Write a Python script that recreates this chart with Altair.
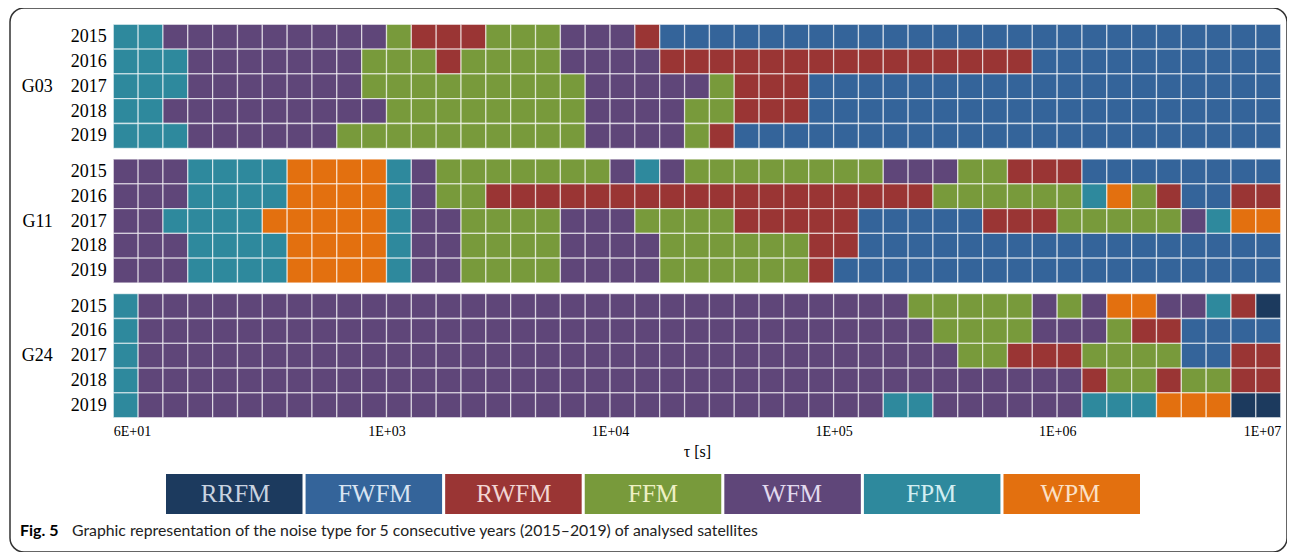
import json
import altair as alt
import pandas as pd

# ---------------- data ----------------
NOISE_TYPES = ["RRFM", "FWFM", "RWFM", "FFM", "WFM", "FPM", "WPM"]
SATELLITES = ["G03", "G11", "G24"]
YEARS = ["2015", "2016", "2017", "2018", "2019"]
N_COLS = 47
TICK_INDEX = [0, 11, 20, 29, 38, 47]
TICK_LABELS = ["6E+01", "1E+03", "1E+04", "1E+05", "1E+06", "1E+07"]
AXIS_TITLE = "τ [s]"
CAPTION_LABEL = "Fig. 5"
CAPTION_TEXT = "Graphic representation of the noise type for 5 consecutive years (2015–2019) of analysed satellites"

# run-length rows: (noise type, number of consecutive tau cells)
G03_RUNS = {
    "2015": [("FPM", 2), ("WFM", 9), ("FFM", 1), ("RWFM", 3), ("FFM", 3), ("WFM", 3), ("RWFM", 1), ("FWFM", 25)],
    "2016": [("FPM", 3), ("WFM", 7), ("FFM", 3), ("RWFM", 1), ("FFM", 4), ("WFM", 4), ("RWFM", 15), ("FWFM", 10)],
    "2017": [("FPM", 3), ("WFM", 7), ("FFM", 9), ("WFM", 5), ("FFM", 1), ("RWFM", 3), ("FWFM", 19)],
    "2018": [("FPM", 2), ("WFM", 9), ("FFM", 8), ("WFM", 4), ("FFM", 2), ("RWFM", 3), ("FWFM", 19)],
    "2019": [("FPM", 3), ("WFM", 6), ("FFM", 10), ("WFM", 4), ("FFM", 1), ("RWFM", 1), ("FWFM", 22)],
}
G11_RUNS = {
    "2015": [("WFM", 3), ("FPM", 4), ("WPM", 4), ("FPM", 1), ("WFM", 1), ("FFM", 7), ("WFM", 1), ("FPM", 1),
             ("WFM", 1), ("FFM", 8), ("WFM", 3), ("FFM", 2), ("RWFM", 3), ("FWFM", 8)],
    "2016": [("WFM", 3), ("FPM", 4), ("WPM", 4), ("FPM", 1), ("WFM", 1), ("FFM", 2), ("RWFM", 18), ("FFM", 6),
             ("FPM", 1), ("WPM", 1), ("FFM", 1), ("RWFM", 1), ("FWFM", 2), ("RWFM", 2)],
    "2017": [("WFM", 2), ("FPM", 4), ("WPM", 5), ("FPM", 1), ("WFM", 2), ("FFM", 4), ("WFM", 3), ("FFM", 4),
             ("RWFM", 5), ("FWFM", 5), ("RWFM", 3), ("FFM", 5), ("WFM", 1), ("FPM", 1), ("WPM", 2)],
    "2018": [("WFM", 3), ("FPM", 4), ("WPM", 4), ("FPM", 1), ("WFM", 2), ("FFM", 4), ("WFM", 4), ("FFM", 6),
             ("RWFM", 2), ("FWFM", 17)],
    "2019": [("WFM", 3), ("FPM", 4), ("WPM", 4), ("FPM", 1), ("WFM", 2), ("FFM", 4), ("WFM", 4), ("FFM", 6),
             ("RWFM", 1), ("FWFM", 18)],
}
G24_RUNS = {
    "2015": [("FPM", 1), ("WFM", 31), ("FFM", 5), ("WFM", 1), ("FFM", 1), ("WFM", 1), ("WPM", 2), ("WFM", 2),
             ("FPM", 1), ("RWFM", 1), ("RRFM", 1)],
    "2016": [("FPM", 1), ("WFM", 32), ("FFM", 4), ("WFM", 3), ("FFM", 1), ("RWFM", 2), ("FWFM", 4)],
    "2017": [("FPM", 1), ("WFM", 33), ("FFM", 2), ("RWFM", 3), ("FFM", 4), ("FWFM", 2), ("RWFM", 2)],
    "2018": [("FPM", 1), ("WFM", 38), ("RWFM", 1), ("FFM", 2), ("RWFM", 1), ("FFM", 2), ("RWFM", 2)],
    "2019": [("FPM", 1), ("WFM", 30), ("FPM", 2), ("WFM", 6), ("FPM", 3), ("WPM", 3), ("RRFM", 2)],
}
RUNS = {"G03": G03_RUNS, "G11": G11_RUNS, "G24": G24_RUNS}

# ---------------- styles ----------------
NOISE_COLORS = ["#1c3a5e", "#34649a", "#9a3534", "#789a3b", "#5f4679", "#2e899d", "#e3700f"]
LABEL_COLORS = ["#c9d3e0", "#d9e4f2", "#f2d6d3", "#eef0c4", "#e2d9ee", "#d3eef2", "#fbe0c6"]
SERIF = "Liberation Serif"
SANS = "Lato"

GAP = 0.43                      # vertical gap between satellite blocks (row units)
BLOCK = len(YEARS) + GAP

W, H = 1277, 544

# ---------------- build table ----------------
records = []
for p, sat in enumerate(SATELLITES):
    for i, year in enumerate(YEARS):
        col = 0
        for noise, n in RUNS[sat][year]:
            for _ in range(n):
                r0 = p * BLOCK + i
                records.append(dict(sat=sat, year=year, noise=noise,
                                    c0=col, c1=col + 1, r0=r0, r1=r0 + 1))
                col += 1
        assert col == N_COLS, (sat, year, col)
cells = pd.DataFrame(records)

y_ticks = [p * BLOCK + i + 0.5 for p in range(len(SATELLITES)) for i in range(len(YEARS))]
row_idx = f"floor(datum.value - floor(datum.value/{BLOCK})*{BLOCK})"
y_label_expr = (
    f"({row_idx} == 2 ? {json.dumps(SATELLITES)}[floor(datum.value/{BLOCK})] + '\u2003' : '') + "
    f"{json.dumps(YEARS)}[{row_idx}]"
)
x_label_expr = f"{json.dumps(TICK_LABELS)}[indexof({json.dumps(TICK_INDEX)}, datum.value)]"

x_scale = alt.Scale(domain=[0, N_COLS], range=[103.3, 1270.7], nice=False, zero=False)
y_scale = alt.Scale(domain=[0, len(SATELLITES) * BLOCK - GAP], range=[16.3, 409.7], nice=False, zero=False)
color_scale = alt.Scale(domain=NOISE_TYPES, range=NOISE_COLORS)

grid = alt.Chart(cells).mark_rect(stroke="white", strokeWidth=1.3, strokeOpacity=0.6).encode(
    x=alt.X("c0:Q", scale=x_scale,
            axis=alt.Axis(values=TICK_INDEX, labelExpr=x_label_expr, orient="bottom",
                          offset=-(H - 409.7), ticks=False, domain=False, grid=False,
                          labelPadding=7, labelFont=SERIF, labelFontSize=14, labelColor="black",
                          labelFlush=True, title=AXIS_TITLE, titleFont=SERIF, titleFontSize=16,
                          titleFontWeight="normal", titleColor="black", titlePadding=5)),
    x2="c1:Q",
    y=alt.Y("r0:Q", scale=y_scale,
            axis=alt.Axis(values=y_ticks, labelExpr=y_label_expr, orient="left",
                          offset=-103.3, ticks=False, domain=False, grid=False,
                          labelPadding=7, labelFont=SERIF, labelFontSize=18, labelColor="black",
                          labelBaseline="middle", title=None)),
    y2="r1:Q",
    color=alt.Color("noise:N", scale=color_scale, legend=None),
    tooltip=["sat", "year", "noise"],
)

leg = pd.DataFrame({"noise": NOISE_TYPES, "row": ["legend"] * len(NOISE_TYPES)})
leg_x = alt.X("noise:N", sort=NOISE_TYPES,
              scale=alt.Scale(domain=NOISE_TYPES, range=[156, 1130], paddingInner=0.022, paddingOuter=0),
              axis=None)
leg_y = alt.Y("row:N", scale=alt.Scale(domain=["legend"], range=[466, 506], paddingInner=0, paddingOuter=0),
              axis=None)
legend_rect = alt.Chart(leg).mark_rect().encode(
    x=leg_x, y=leg_y,
    color=alt.Color("noise:N", scale=color_scale, legend=None),
)
legend_text = alt.Chart(leg).mark_text(font=SERIF, fontSize=25, baseline="middle").encode(
    x=leg_x, y=leg_y, text="noise:N",
    color=alt.Color("noise:N", scale=alt.Scale(domain=NOISE_TYPES, range=LABEL_COLORS), legend=None),
)

cap_df = pd.DataFrame({"label": [CAPTION_LABEL], "text": [CAPTION_TEXT]})
cap_bold = alt.Chart(cap_df).mark_text(font=SANS, fontSize=16, fontWeight="bold", align="left",
                                       baseline="middle", color="black").encode(
    x=alt.value(10), y=alt.value(523), text="label:N")
cap_text = alt.Chart(cap_df).mark_text(font=SANS, fontSize=15.8, align="left",
                                       baseline="middle", color="#222222").encode(
    x=alt.value(62), y=alt.value(523), text="text:N")

chart = (
    alt.layer(grid, legend_rect, legend_text, cap_bold, cap_text)
    .resolve_scale(x="independent", y="independent", color="independent")
    .properties(width=W, height=H,
                autosize=alt.AutoSizeParams(type="none"),
                padding={"left": 2, "top": 0, "right": 0, "bottom": 0},
                background="white")
    .configure_view(stroke="#333333", strokeWidth=1.5, cornerRadius=14)
)

chart.save("out.html", embed_options={"renderer": "svg", "actions": False})
